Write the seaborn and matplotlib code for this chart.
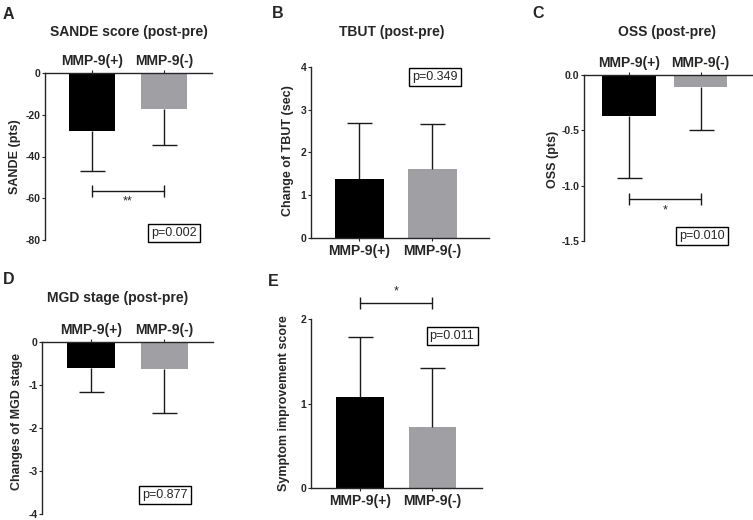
import numpy as np
import pandas as pd
import matplotlib
matplotlib.use("Agg")
import matplotlib.pyplot as plt
import seaborn as sns

# ---------------- data ----------------
groups = ["MMP-9(+)", "MMP-9(-)"]
bar_colors = ["#000000", "#a0a0a4"]

sande_mean = [-27.8, -17.2]
sande_sd = [19.1, 17.3]
tbut_mean = [1.37, 1.61]
tbut_sd = [1.31, 1.06]
oss_mean = [-0.37, -0.11]
oss_sd = [0.56, 0.39]
mgd_mean = [-0.60, -0.63]
mgd_sd = [0.56, 1.02]
symptom_mean = [1.08, 0.72]
symptom_sd = [0.71, 0.70]

sande_ticks = [0, -20, -40, -60, -80]
tbut_ticks = [0, 1, 2, 3, 4]
oss_ticks = [0.0, -0.5, -1.0, -1.5]
mgd_ticks = [0, -1, -2, -3, -4]
symptom_ticks = [0, 1, 2]

panel_letters = ["A", "B", "C", "D", "E"]
titles = ["SANDE score (post-pre)", "TBUT (post-pre)", "OSS (post-pre)",
          "MGD stage (post-pre)", ""]
ylabels = ["SANDE (pts)", "Change of TBUT (sec)", "OSS (pts)",
           "Changes of MGD stage", "Symptom improvement score"]
p_texts = ["p=0.002", "p=0.349", "p=0.010", "p=0.877", "p=0.011"]
sig_stars = ["**", "", "*", "", "*"]
sig_levels = [-56.4, None, -1.12, None, 2.19]

# ---------------- style ----------------
sns.set_style("ticks")
plt.rcParams["font.family"] = ["Liberation Sans", "DejaVu Sans"]
plt.rcParams["axes.unicode_minus"] = False
plt.rcParams["axes.linewidth"] = 1.0

W, H = 753, 520
fig = plt.figure(figsize=(W / 100, H / 100), dpi=100)


def rect(x0, x1, y0, y1):
    return [x0 / W, 1 - y1 / H, (x1 - x0) / W, (y1 - y0) / H]


def fpos(x, y):
    return x / W, 1 - y / H


layout = [
    dict(box=(45, 212, 73, 240), xlim=(-0.653, 1.667), width=0.65, ylim=(-80, 0),
         ticks=sande_ticks, fmt="{:.0f}", title=(0.503, 1.246), ylab=(-0.18, 0.5),
         letter=(3, 19), pbox=(174, 233), star_off=-8),
    dict(box=(311, 489, 67, 238), xlim=(-0.664, 1.774), width=0.67, ylim=(0, 4),
         ticks=tbut_ticks, fmt="{:.0f}", title=(0.455, 1.205), ylab=(-0.13, 0.51),
         letter=(272, 18), pbox=(435, 77), star_off=8),
    dict(box=(584, 753, 75, 241), xlim=(-0.629, 1.734), width=0.75, ylim=(-1.5, 0),
         ticks=oss_ticks, fmt="{:.1f}", title=(0.49, 1.259), ylab=(-0.185, 0.49),
         letter=(532, 18), pbox=(702, 236), star_off=-8),
    dict(box=(42, 213, 342, 514), xlim=(-0.667, 1.66), width=0.65, ylim=(-4, 0),
         ticks=mgd_ticks, fmt="{:.0f}", title=(0.444, 1.256), ylab=(-0.146, 0.535),
         letter=(3, 284), pbox=(165, 495), star_off=-8),
    dict(box=(311, 482, 319, 488), xlim=(-0.676, 1.683), width=0.66, ylim=(0, 2),
         ticks=symptom_ticks, fmt="{:.0f}", title=(0.5, 1.2), ylab=(-0.155, 0.5),
         letter=(268, 286), pbox=(452, 336), star_off=8),
]

means_all = [sande_mean, tbut_mean, oss_mean, mgd_mean, symptom_mean]
sds_all = [sande_sd, tbut_sd, oss_sd, mgd_sd, symptom_sd]

for i, lay in enumerate(layout):
    means = np.asarray(means_all[i], dtype=float)
    sds = np.asarray(sds_all[i], dtype=float)
    negative = lay["ylim"][1] == 0
    ax = fig.add_axes(rect(*lay["box"]))
    df = pd.DataFrame({"group": groups, "value": means})
    sns.barplot(data=df, x="group", y="value", hue="group", palette=bar_colors,
                width=lay["width"], ax=ax, legend=False, linewidth=0,
                saturation=1, errorbar=None, order=groups, hue_order=groups)
    xs = np.arange(len(groups))
    ends = means - sds if negative else means + sds
    # one-sided error bars (SD away from zero) with a cap only at the far end
    ax.vlines(xs, means, ends, colors="#1a1a1a", linewidth=1.0, zorder=4)
    ax.plot(xs, ends, linestyle="none", marker="_", markersize=18,
            markeredgewidth=1.0, color="#1a1a1a", zorder=4)

    ax.set_xlim(*lay["xlim"])
    ax.set_ylim(*lay["ylim"])
    ax.set_yticks(lay["ticks"])
    ax.set_yticklabels([lay["fmt"].format(t) for t in lay["ticks"]])
    ax.set_xlabel("")
    ax.set_ylabel(ylabels[i], fontsize=9, fontweight="bold", va="center")
    ax.yaxis.set_label_coords(*lay["ylab"])

    ax.spines["right"].set_visible(False)
    if negative:
        ax.spines["bottom"].set_visible(False)
        ax.xaxis.tick_top()
        ax.tick_params(axis="x", top=True, bottom=False, labeltop=True,
                       labelbottom=False, length=2.5, width=0.8, pad=1.0)
    else:
        ax.spines["top"].set_visible(False)
        ax.tick_params(axis="x", top=False, bottom=True, length=2.5, width=0.8,
                       pad=1.5)
    ax.tick_params(axis="y", length=2.5, width=0.8, pad=0.8)
    for lab in ax.get_xticklabels():
        lab.set_fontsize(10)
        lab.set_fontweight("bold")
    for lab in ax.get_yticklabels():
        lab.set_fontsize(7.5)
        lab.set_fontweight("bold")

    if titles[i]:
        ax.set_title(titles[i], x=lay["title"][0], y=lay["title"][1],
                     fontsize=10, fontweight="bold", va="center", pad=0)

    if sig_levels[i] is not None:
        yb = sig_levels[i]
        ax.plot(xs, [yb, yb], color="#1a1a1a", lw=1.0, marker="|", markersize=9,
                mew=1.0, clip_on=False, zorder=5)
        ax.annotate(sig_stars[i], xy=(xs.mean(), yb), xytext=(0, lay["star_off"]),
                    textcoords="offset points", ha="center", va="center",
                    fontsize=9, annotation_clip=False)

    fig.text(*fpos(*lay["letter"]), panel_letters[i], fontsize=11.5,
             fontweight="bold", ha="left", va="baseline")
    fig.text(*fpos(*lay["pbox"]), p_texts[i], fontsize=9, ha="center", va="center",
             bbox=dict(boxstyle="square,pad=0.25", facecolor="white",
                       edgecolor="black", linewidth=1.0))

fig.savefig("out.png", dpi=100)
